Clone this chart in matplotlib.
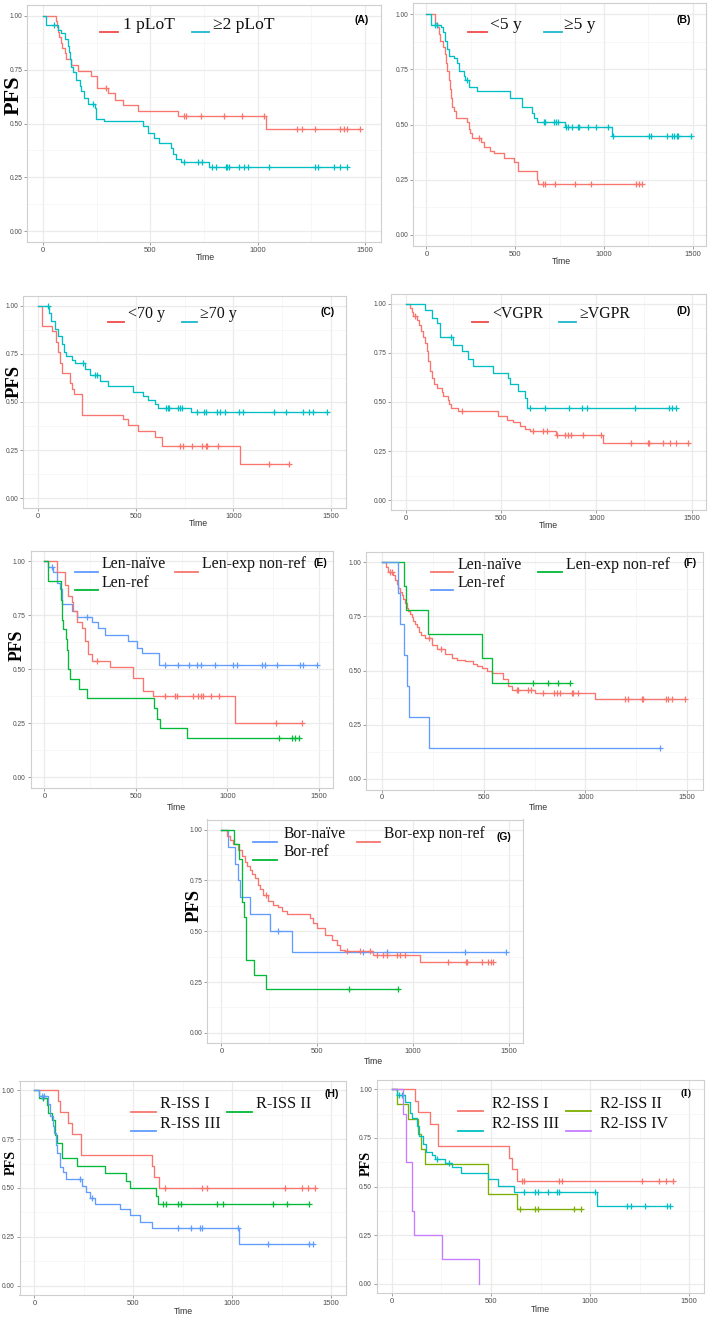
import numpy as np
import matplotlib
matplotlib.use("Agg")
import matplotlib.pyplot as plt
from matplotlib.lines import Line2D

plt.rcParams['font.family'] = ['Liberation Sans', 'DejaVu Sans']
SERIF = ['Liberation Serif', 'DejaVu Serif']

W, H = 709, 1317

# ggplot hue colours
RED = '#F8766D'
CYAN = '#00BFC4'
GREEN = '#00BA38'
BLUE = '#619CFF'
OLIVE = '#7CAE00'
PURPLE = '#C77CFF'

# ---- data: event times (t), survival after event (s), censor times (c) ----
# (A) lines of therapy
A1_t = [59, 64, 70, 76, 82, 90, 100, 108, 132, 163, 224, 250, 302, 333, 372, 441, 627, 1037]
A1_s = [0.975, 0.95, 0.925, 0.90, 0.875, 0.85, 0.825, 0.80, 0.77, 0.745, 0.72, 0.665, 0.64, 0.61, 0.585, 0.56, 0.535, 0.475]
A1_c = [291, 658, 666, 735, 844, 929, 1029, 1184, 1207, 1269, 1385, 1401, 1416, 1478]
A2_t = [15, 70, 85, 100, 116, 120, 124, 128, 132, 140, 155, 170, 178, 193, 209, 240, 248, 286, 464, 488, 519, 542, 596, 604, 619, 642, 774]
A2_s = [0.957, 0.935, 0.92, 0.89, 0.86, 0.83, 0.80, 0.78, 0.76, 0.74, 0.70, 0.675, 0.65, 0.62, 0.59, 0.57, 0.52, 0.51, 0.49, 0.455, 0.435, 0.41, 0.385, 0.36, 0.335, 0.32, 0.30]
A2_c = [51, 232, 658, 720, 740, 789, 805, 851, 859, 867, 913, 937, 957, 1053, 1269, 1282, 1354, 1385, 1416]
A_labels = ['1 pLoT', '\u22652 pLoT']

# (B) years from diagnosis
B1_t = [51, 60, 70, 79, 92, 103, 111, 116, 126, 135, 141, 144, 154, 169, 229, 238, 248, 257, 309, 323, 360, 379, 435, 491, 519, 622, 628]
B1_s = [0.96, 0.94, 0.91, 0.88, 0.85, 0.82, 0.78, 0.74, 0.70, 0.66, 0.62, 0.58, 0.56, 0.53, 0.51, 0.48, 0.46, 0.44, 0.42, 0.40, 0.38, 0.37, 0.35, 0.33, 0.29, 0.25, 0.23]
B1_c = [294, 656, 669, 726, 838, 926, 1181, 1200, 1213]
B2_t = [28, 84, 94, 107, 116, 126, 154, 173, 182, 210, 219, 238, 285, 472, 538, 594, 604, 622, 782, 1044]
B2_s = [0.952, 0.94, 0.92, 0.88, 0.84, 0.81, 0.80, 0.78, 0.74, 0.72, 0.70, 0.67, 0.65, 0.62, 0.58, 0.55, 0.53, 0.51, 0.49, 0.45]
B2_c = [51, 60, 229, 660, 669, 720, 729, 739, 787, 800, 820, 853, 860, 913, 954, 1024, 1050, 1253, 1263, 1354, 1382, 1395, 1410, 1419, 1490]
B_labels = ['<5 y', '\u22655 y']

# (C) age
C1_t = [22, 73, 91, 103, 111, 120, 162, 171, 183, 227, 436, 461, 512, 598, 637, 1034]
C1_s = [0.895, 0.87, 0.81, 0.76, 0.70, 0.65, 0.60, 0.57, 0.54, 0.435, 0.41, 0.38, 0.35, 0.32, 0.27, 0.18]
C1_c = [726, 740, 789, 841, 858, 866, 923, 1184, 1283]
C2_t = [55, 68, 85, 103, 120, 133, 145, 171, 188, 239, 265, 316, 359, 487, 538, 564, 598, 615, 781]
C2_s = [0.96, 0.92, 0.88, 0.84, 0.80, 0.76, 0.74, 0.72, 0.70, 0.67, 0.64, 0.61, 0.585, 0.55, 0.53, 0.51, 0.49, 0.47, 0.45]
C2_c = [48, 231, 290, 299, 653, 663, 671, 714, 726, 736, 812, 849, 859, 914, 931, 957, 1031, 1051, 1208, 1269, 1355, 1387, 1409, 1478]
C_labels = ['<70 y', '\u226570 y']

# (D) response
D1_t = [23, 35, 40, 61, 70, 79, 93, 101, 110, 119, 128, 136, 149, 163, 189, 198, 220, 229, 238, 276, 486, 530, 565, 600, 626, 652, 789, 1037]
D1_s = [0.98, 0.96, 0.94, 0.92, 0.89, 0.86, 0.83, 0.80, 0.76, 0.71, 0.66, 0.62, 0.59, 0.57, 0.55, 0.53, 0.51, 0.49, 0.47, 0.455, 0.43, 0.41, 0.40, 0.38, 0.36, 0.35, 0.33, 0.29]
D1_c = [49, 294, 670, 718, 740, 792, 836, 853, 867, 928, 1024, 1182, 1269, 1278, 1351, 1386, 1416, 1479]
D2_t = [101, 136, 163, 180, 250, 294, 329, 355, 460, 538, 545, 591, 626, 635]
D2_s = [0.97, 0.93, 0.90, 0.83, 0.79, 0.76, 0.72, 0.685, 0.65, 0.62, 0.59, 0.555, 0.52, 0.47]
D2_c = [238, 652, 729, 858, 923, 953, 1203, 1381, 1398, 1416]
D_labels = ['<VGPR', '\u2265VGPR']

# (E) lenalidomide status
E1_t = [22, 49, 71, 86, 95, 149, 177, 258, 295, 331, 459, 504, 532, 628]
E1_s = [0.975, 0.95, 0.90, 0.87, 0.80, 0.77, 0.74, 0.72, 0.69, 0.66, 0.63, 0.60, 0.575, 0.52]
E1_c = [40, 231, 659, 728, 790, 835, 855, 932, 1032, 1050, 1187, 1205, 1269, 1396, 1414, 1487]
E2_t = [67, 113, 131, 149, 158, 177, 204, 222, 240, 258, 359, 486, 541, 595, 1041]
E2_s = [0.95, 0.89, 0.84, 0.81, 0.77, 0.72, 0.69, 0.63, 0.57, 0.54, 0.51, 0.46, 0.40, 0.375, 0.25]
E2_c = [286, 659, 714, 726, 810, 841, 854, 868, 908, 954, 1265, 1405]
E3_t = [22, 89, 98, 104, 116, 124, 131, 140, 189, 231, 600, 614, 632, 781]
E3_s = [0.91, 0.82, 0.73, 0.685, 0.64, 0.59, 0.50, 0.455, 0.41, 0.365, 0.32, 0.27, 0.23, 0.18]
E3_c = [1284, 1351, 1369, 1390]
E_labels = ['Len-na\u00efve', 'Len-exp non-ref', 'Len-ref']

# (F)
F1_t = [20, 30, 55, 65, 74, 82, 90, 98, 107, 115, 123, 131, 139, 147, 155, 164, 172, 182, 193, 213, 245, 270, 311, 344, 368, 409, 450, 466, 491, 515, 543, 597, 622, 638, 752, 1047]
F1_s = [0.98, 0.955, 0.94, 0.92, 0.90, 0.88, 0.865, 0.85, 0.83, 0.81, 0.79, 0.775, 0.76, 0.745, 0.73, 0.715, 0.70, 0.68, 0.665, 0.65, 0.62, 0.60, 0.575, 0.56, 0.55, 0.545, 0.53, 0.52, 0.51, 0.50, 0.49, 0.46, 0.43, 0.41, 0.395, 0.37]
F1_c = [41, 49, 232, 291, 663, 671, 716, 733, 793, 847, 859, 875, 932, 941, 965, 1194, 1210, 1276, 1284, 1394, 1407, 1423, 1488]
F2_t = [111, 119, 229, 491, 543]
F2_s = [0.889, 0.778, 0.667, 0.556, 0.444]
F2_c = [744, 815, 867, 924]
F3_t = [79, 90, 111, 126, 134, 232]
F3_s = [0.857, 0.714, 0.571, 0.429, 0.286, 0.143]
F3_c = [1366]
F_labels = ['Len-na\u00efve', 'Len-exp non-ref', 'Len-ref']

# (G) bortezomib status
G1_t = [33, 71, 85, 97, 150, 254, 367]
G1_s = [0.917, 0.833, 0.75, 0.667, 0.583, 0.50, 0.40]
G1_c = [294, 738, 863, 1272, 1486]
G2_t = [28, 45, 63, 89, 106, 124, 132, 150, 158, 176, 193, 202, 219, 245, 268, 298, 315, 341, 463, 480, 498, 541, 576, 602, 619, 646, 790, 1037]
G2_s = [0.97, 0.95, 0.93, 0.90, 0.87, 0.84, 0.82, 0.80, 0.78, 0.76, 0.73, 0.71, 0.68, 0.65, 0.63, 0.62, 0.60, 0.585, 0.565, 0.54, 0.515, 0.48, 0.455, 0.43, 0.41, 0.405, 0.385, 0.35]
G2_c = [233, 654, 724, 776, 811, 846, 863, 915, 933, 959, 1185, 1277, 1284, 1359, 1390, 1407, 1420]
G3_t = [66, 94, 110, 118, 129, 171, 233]
G3_s = [0.929, 0.857, 0.643, 0.571, 0.357, 0.286, 0.214]
G3_c = [668, 924]
G_labels = ['Bor-na\u00efve', 'Bor-exp non-ref', 'Bor-ref']

# (H) R-ISS
H1_t = [118, 130, 172, 189, 236, 593, 607, 632]
H1_s = [0.944, 0.889, 0.833, 0.778, 0.667, 0.611, 0.556, 0.50]
H1_c = [661, 846, 871, 1267, 1352, 1386, 1419]
H2_t = [25, 62, 71, 88, 104, 113, 138, 217, 357, 463, 484, 615, 627]
H2_s = [0.962, 0.923, 0.885, 0.846, 0.769, 0.731, 0.654, 0.615, 0.577, 0.538, 0.50, 0.46, 0.42]
H2_c = [46, 649, 666, 728, 740, 925, 956, 1208, 1276, 1390]
H3_t = [25, 67, 79, 93, 99, 110, 116, 130, 147, 160, 239, 261, 282, 307, 433, 484, 534, 593, 1037]
H3_s = [0.97, 0.93, 0.87, 0.82, 0.78, 0.72, 0.68, 0.61, 0.58, 0.545, 0.51, 0.48, 0.45, 0.42, 0.39, 0.36, 0.325, 0.295, 0.215]
H3_c = [37, 51, 231, 290, 725, 792, 838, 846, 1028, 1183, 1390, 1407]
H_labels = ['R-ISS I', 'R-ISS II', 'R-ISS III']

# (I) R2-ISS
I1_t = [118, 131, 193, 235, 591, 605, 633]
I1_s = [0.941, 0.882, 0.824, 0.706, 0.647, 0.588, 0.529]
I1_c = [655, 667, 843, 860, 1263, 1347, 1381, 1419]
I2_t = [25, 81, 134, 148, 168, 484, 630]
I2_s = [0.923, 0.846, 0.769, 0.692, 0.615, 0.462, 0.385]
I2_c = [647, 722, 736, 920, 954]
I3_t = [25, 67, 92, 101, 126, 139, 160, 171, 202, 218, 269, 302, 349, 487, 538, 618, 1033]
I3_s = [0.97, 0.935, 0.88, 0.85, 0.81, 0.76, 0.72, 0.68, 0.66, 0.64, 0.62, 0.60, 0.57, 0.54, 0.505, 0.47, 0.40]
I3_c = [37, 50, 227, 289, 669, 722, 736, 790, 831, 845, 1024, 1184, 1206, 1277, 1386, 1403]
I4_t = [59, 71, 101, 114, 255, 442]
I4_s = [0.875, 0.625, 0.375, 0.25, 0.125, 0.0]
I4_c = []
I_labels = ['R2-ISS I', 'R2-ISS II', 'R2-ISS III', 'R2-ISS IV']


fig = plt.figure(figsize=(W / 100, H / 100), dpi=100)


def fx(x):
    return x / W


def fy(y):
    return 1 - y / H


def panel(l, t, r, b):
    ax = fig.add_axes([fx(l), fy(b), (r - l) / W, (b - t) / H])
    ax.set_xlim(-75, 1575)
    ax.set_ylim(-0.05, 1.05)
    ax.set_xticks([0, 500, 1000, 1500])
    ax.set_xticks([250, 750, 1250], minor=True)
    ax.set_yticks([0, 0.25, 0.5, 0.75, 1.0])
    ax.set_yticks([0.125, 0.375, 0.625, 0.875], minor=True)
    ax.set_yticklabels(['0.00', '0.25', '0.50', '0.75', '1.00'])
    ax.grid(which='major', color='#EBEBEB', lw=0.9)
    ax.grid(which='minor', color='#F4F4F4', lw=0.5)
    ax.set_axisbelow(True)
    ax.tick_params(which='major', length=2, width=0.5, color='#777777',
                   labelcolor='#4D4D4D', pad=1.5)
    ax.tick_params(axis='x', labelsize=5.5)
    ax.tick_params(axis='y', labelsize=4.8)
    ax.tick_params(which='minor', length=0)
    for sp in ax.spines.values():
        sp.set_color('#CFCFCF')
        sp.set_linewidth(0.8)
    return ax


def km(ax, t, s, cens, color):
    x = np.r_[0, t]
    y = np.r_[1.0, s]
    end = max([t[-1]] + list(cens))
    x = np.r_[x, end]
    y = np.r_[y, y[-1]]
    ax.step(x, y, where='post', color=color, lw=0.95)
    if len(cens):
        cy = y[np.searchsorted(x, cens, side='right') - 1]
        ax.plot(cens, cy, '+', color=color, ms=4.5, mew=0.9, ls='none')


def legend(items, size):
    # items: (key x0, key x1, key y, text x, label, colour)
    for x0, x1, ky, tx, lab, col in items:
        fig.add_artist(Line2D([fx(x0), fx(x1)], [fy(ky), fy(ky)], color=col,
                              lw=1.3, transform=fig.transFigure))
        fig.text(fx(tx), fy(ky - 3.5), lab, fontsize=size, family=SERIF,
                 va='baseline', ha='left', color='#111111')


def tag(x, y, s, serif=False):
    fig.text(fx(x), fy(y), s, fontsize=7.5, fontweight='bold',
             family=SERIF if serif else None, ha='center', va='center')


def pfs(x, y, size):
    fig.text(fx(x), fy(y), 'PFS', rotation=90, fontsize=size, fontweight='bold',
             family=SERIF, ha='center', va='center')


def time_lab(x, y):
    fig.text(fx(x), fy(y), 'Time', fontsize=6.3, color='#333333', ha='center', va='center')


# (A)
ax = panel(27, 5, 381, 242)
km(ax, A1_t, A1_s, A1_c, RED)
km(ax, A2_t, A2_s, A2_c, CYAN)
legend([(100, 118, 32.3, 123, A_labels[0], '#F04A4A'),
        (192, 209, 32.3, 213, A_labels[1], '#1CB8CC')], 12.6)
tag(362, 20, '(A)')
pfs(14, 95, 16)
time_lab(205, 258)

# (B)
ax = panel(413, 3, 706, 246)
km(ax, B1_t, B1_s, B1_c, RED)
km(ax, B2_t, B2_s, B2_c, CYAN)
legend([(468, 487, 32.3, 490, B_labels[0], '#F04A4A'),
        (544, 562, 32.3, 564, B_labels[1], '#1CB8CC')], 12.6)
tag(684, 20, '(B)')
time_lab(561, 262)

# (C)
ax = panel(23.5, 296, 345.6, 508)
km(ax, C1_t, C1_s, C1_c, RED)
km(ax, C2_t, C2_s, C2_c, CYAN)
legend([(108, 124, 321.7, 128, C_labels[0], '#F04A4A'),
        (182, 197, 321.7, 200, C_labels[1], '#1CB8CC')], 11.5)
tag(328, 312, '(C)')
pfs(14.5, 381, 13.4)
time_lab(198, 524)

# (D)
ax = panel(391.4, 294, 706, 510)
km(ax, D1_t, D1_s, D1_c, RED)
km(ax, D2_t, D2_s, D2_c, CYAN)
legend([(472, 488, 321.7, 492, D_labels[0], '#F04A4A'),
        (559, 576, 321.7, 579, D_labels[1], '#1CB8CC')], 11.4)
tag(684, 311, '(D)')
time_lab(548, 526)

# (E)
ax = panel(30.6, 550.5, 332.7, 788)
km(ax, E1_t, E1_s, E1_c, BLUE)
km(ax, E2_t, E2_s, E2_c, RED)
km(ax, E3_t, E3_s, E3_c, GREEN)
legend([(75, 98, 571.7, 102, E_labels[0], BLUE),
        (175, 198, 571.7, 202, E_labels[1], RED),
        (75, 98, 590, 102, E_labels[2], GREEN)], 11.4)
tag(320.5, 563, '(E)')
pfs(17.5, 645, 12.8)
time_lab(176, 807)

# (F)
ax = panel(366.4, 551.5, 702.6, 789.5)
km(ax, F1_t, F1_s, F1_c, RED)
km(ax, F2_t, F2_s, F2_c, GREEN)
km(ax, F3_t, F3_s, F3_c, BLUE)
legend([(431, 453, 572, 458, F_labels[0], RED),
        (538, 562, 572, 566, F_labels[1], GREEN),
        (431, 453, 590, 458, F_labels[2], BLUE)], 11.4)
tag(690, 563, '(F)')
time_lab(538, 808)

# (G)
ax = panel(207, 819.5, 523, 1043)
km(ax, G1_t, G1_s, G1_c, BLUE)
km(ax, G2_t, G2_s, G2_c, RED)
km(ax, G3_t, G3_s, G3_c, GREEN)
legend([(253, 277, 842, 284, G_labels[0], BLUE),
        (357, 380, 842, 384, G_labels[1], RED),
        (253, 277, 860, 284, G_labels[2], GREEN)], 11.2)
tag(504, 837, '(G)')
pfs(194, 906, 13.4)
time_lab(373, 1061)

# (H)
ax = panel(19.5, 1080.6, 345.8, 1295.4)
km(ax, H1_t, H1_s, H1_c, RED)
km(ax, H2_t, H2_s, H2_c, GREEN)
km(ax, H3_t, H3_s, H3_c, BLUE)
legend([(131, 156, 1112, 160, H_labels[0], RED),
        (227, 252, 1112, 256, H_labels[1], GREEN),
        (131, 156, 1131, 160, H_labels[2], BLUE)], 11.7)
tag(332, 1094, '(H)')
pfs(11, 1162, 10.2)
time_lab(183, 1312)

# (I)
ax = panel(376.8, 1079.6, 704.2, 1293.4)
km(ax, I1_t, I1_s, I1_c, RED)
km(ax, I2_t, I2_s, I2_c, OLIVE)
km(ax, I3_t, I3_s, I3_c, CYAN)
km(ax, I4_t, I4_s, I4_c, PURPLE)
legend([(458, 483, 1111, 492, I_labels[0], RED),
        (566, 591, 1111, 600, I_labels[1], OLIVE),
        (458, 483, 1131, 492, I_labels[2], CYAN),
        (566, 591, 1131, 600, I_labels[3], PURPLE)], 11.5)
tag(686, 1093, '(I)', serif=True)
pfs(366, 1163, 10.2)
time_lab(540, 1310)

fig.savefig('out.png', dpi=100, facecolor='white')
